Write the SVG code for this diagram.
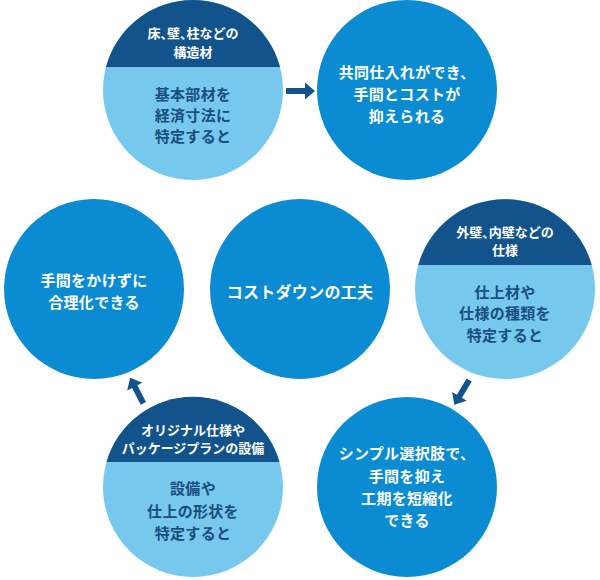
<svg xmlns="http://www.w3.org/2000/svg" width="600" height="580" viewBox="0 0 600 580">
<defs>
<style>
.blue{fill:#0a8bd2}
.light{fill:#76c8ec}
.dark{fill:#13538b}
text{font-family:"Noto Sans CJK JP","Noto Sans",sans-serif;font-weight:bold;text-anchor:middle}
.w{fill:#ffffff;font-size:15px;letter-spacing:0.3px}
.h{fill:#ffffff;font-size:13px}
.d{fill:#1a4e80;font-size:15px;letter-spacing:0.3px}
.c{fill:#ffffff;font-size:16px;letter-spacing:0.3px}
.k{font-feature-settings:"halt"}
.arrow{fill:#13538b}
</style>
<path id="arr" d="M-14,-3 H5 V-8.5 L15,0 L5,8.5 V3 H-14 Z"/>
</defs>
<g id="connectors">
<use href="#arr" class="arrow" transform="translate(300,91)"/>
<use href="#arr" class="arrow" transform="translate(462,392) rotate(121)"/>
<use href="#arr" class="arrow" transform="translate(137,391) rotate(-117)"/>
</g>
<g id="node-base-materials">
<circle class="light" cx="193" cy="90" r="90"/>
<path class="dark" d="M106,67 A90 90 0 0 1 280,67 Z"/>
<text class="h" x="193" y="38">床<tspan class="k">、</tspan>壁<tspan class="k">、</tspan>柱などの</text>
<text class="h" x="193" y="57">構造材</text>
<text class="d" x="193" y="100">基本部材を</text>
<text class="d" x="193" y="121">経済寸法に</text>
<text class="d" x="193" y="142">特定すると</text>
</g>
<g id="node-joint-purchase">
<circle class="blue" cx="407" cy="90" r="90"/>
<text class="w" x="407" y="78">共同仕入れができ、</text>
<text class="w" x="407" y="100">手間とコストが</text>
<text class="w" x="407" y="122">抑えられる</text>
</g>
<g id="node-rationalize">
<circle class="blue" cx="94" cy="289" r="90"/>
<text class="w" x="94" y="286">手間をかけずに</text>
<text class="w" x="94" y="308">合理化できる</text>
</g>
<g id="node-center">
<circle class="blue" cx="300" cy="289" r="90"/>
<text class="c" x="300" y="298">コストダウンの工夫</text>
</g>
<g id="node-finishes">
<circle class="light" cx="505" cy="289" r="90"/>
<path class="dark" d="M418.3,265 A90 90 0 0 1 591.7,265 Z"/>
<text class="h" x="505" y="237">外壁<tspan class="k">、</tspan>内壁などの</text>
<text class="h" x="505" y="255">仕様</text>
<text class="d" x="505" y="298">仕上材や</text>
<text class="d" x="505" y="319">仕様の種類を</text>
<text class="d" x="505" y="341">特定すると</text>
</g>
<g id="node-simple-choice">
<circle class="blue" cx="407" cy="487" r="90"/>
<text class="w" x="407" y="459">シンプル選択肢で、</text>
<text class="w" x="407" y="482">手間を抑え</text>
<text class="w" x="407" y="504">工期を短縮化</text>
<text class="w" x="407" y="526">できる</text>
</g>
<g id="node-equipment">
<circle class="light" cx="193" cy="487" r="90"/>
<path class="dark" d="M106.5,462 A90 90 0 0 1 279.5,462 Z"/>
<text class="h" x="193" y="435">オリジナル仕様や</text>
<text class="h" x="193" y="453">パッケージプランの設備</text>
<text class="d" x="193" y="494">設備や</text>
<text class="d" x="193" y="517">仕上の形状を</text>
<text class="d" x="193" y="539">特定すると</text>
</g>
</svg>
